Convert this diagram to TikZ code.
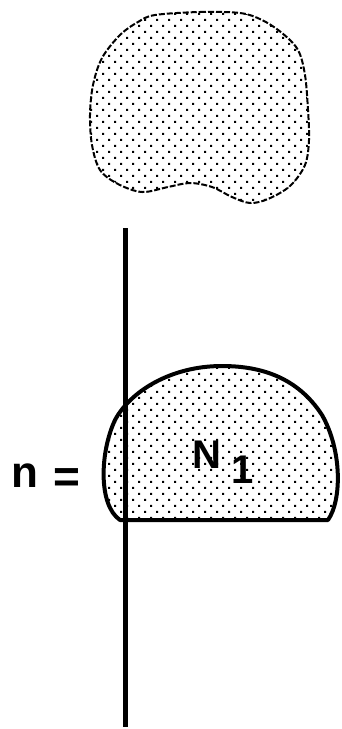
\documentclass[tikz,border=0pt]{standalone}
\usepackage{fontspec}
\setmainfont{Liberation Sans}
\usetikzlibrary{patterns}

\pgfdeclarepatternformonly{stipple}{\pgfqpoint{-1pt}{-1pt}}{\pgfqpoint{13pt}{13pt}}{\pgfqpoint{12pt}{12pt}}{%
  \pgfpathrectangle{\pgfqpoint{0pt}{0pt}}{\pgfqpoint{2pt}{2pt}}%
  \pgfpathrectangle{\pgfqpoint{6pt}{6pt}}{\pgfqpoint{2pt}{2pt}}%
  \pgfusepath{fill}}

\begin{document}
\begin{tikzpicture}[x=1pt, y=-1pt, every node/.style={font=\bfseries\fontsize{40}{40}\selectfont, inner sep=0pt, anchor=base}]
    \useasboundingbox (0,0) rectangle (341,729);
    % upper region, broken outline
    \draw[pattern=stipple, line width=2pt, dash pattern=on 6pt off 2pt]
        plot[smooth cycle, tension=0.55] coordinates {
        (155,15) (200,12) (240,13) (262,20) (282,33) (298,50) (305,75)
        (308,110) (309,140) (305,165) (290,186) (268,199) (250,203)
        (232,197) (212,187) (190,183) (168,187) (142,192) (118,184)
        (100,170) (92,145) (90,115) (93,85) (102,58) (120,35) (138,22)};
    % the axis
    \draw[line width=5pt] (125,228) -- (125,727);
    % lower region N_1
    \draw[pattern=stipple, line width=4pt, line join=round]
        (120,520) -- (328,520)
        .. controls (342,500) and (342,450) .. (322,415)
        .. controls (298,378) and (262,366) .. (222,366)
        .. controls (170,366) and (130,392) .. (115,420)
        .. controls (100,452) and (98,505) .. (120,520) -- cycle;
    \node[font=\bfseries\fontsize{44}{44}\selectfont] (n) at (25,487) {n};
    \node[font=\bfseries\fontsize{46}{46}\selectfont] (eq) at (67,492) {=};
    \node (N) at (207,468) {N};
    \node (one) at (243,483) {1};
\end{tikzpicture}
\end{document}
